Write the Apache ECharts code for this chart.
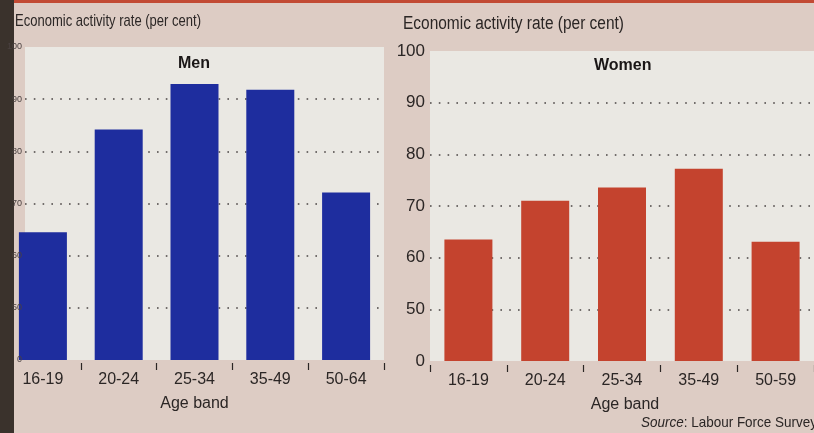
<!DOCTYPE html>
<html><head><meta charset="utf-8">
<script src="https://cdn.jsdelivr.net/npm/echarts@6/dist/echarts.min.js"></script>
<style>html,body{margin:0;padding:0;background:#ddccc4;}#c{width:814px;height:433px;}</style>
</head><body><div id="c"></div>
<script>
const menBands = ['16-19', '20-24', '25-34', '35-49', '50-64'];
const womenBands = ['16-19', '20-24', '25-34', '35-49', '50-59'];
const menRates = [64.5, 84.2, 92.9, 91.8, 72.1];
const womenRates = [63.5, 71, 73.6, 77.2, 63.1];
const yTicks = [40, 50, 60, 70, 80, 90, 100]; // 40 is drawn as the broken-axis "0"
const yTickLabels = ['0', '50', '60', '70', '80', '90', '100'];
const yAxisTitle = 'Economic activity rate (per cent)';
const xAxisTitle = 'Age band';
const sourceText = 'Labour Force Survey';

const FONT = '"Liberation Sans", Arial, sans-serif';
const TXT = '#2b2625';
const PAGE = '#ddccc4';
const PLOT = '#eae8e3';
const BLUE = '#1e2d9e';
const RED = '#c4432e';
const dotted = {show: true, showMinLine: false, showMaxLine: false,
  lineStyle: {color: '#4a4444', width: 1.6, type: [1.6, 7.2]}};
function tickLabel(v){ const i = yTicks.indexOf(v); return i >= 0 ? yTickLabels[i] : ''; }

// horizontal squeeze factor so that a text fits a target width (condensed look)
const mctx = document.createElement('canvas').getContext('2d');
function squeeze(text, font, target){ mctx.font = font; return target / mctx.measureText(text).width; }

const menTitleFont = '17px ' + FONT;
const womenTitleFont = '18px ' + FONT;
const srcFont = '15px ' + FONT;
const srcFull = 'Source: ' + sourceText;

const chart = echarts.init(document.getElementById('c'), null, {renderer: 'canvas'});
chart.setOption({
  backgroundColor: PAGE,
  animation: false,
  textStyle: {fontFamily: FONT},
  grid: [
    {left: 5, top: 47, width: 379, height: 313, show: false},
    {left: 25, top: 47, width: 359, height: 313, show: true, backgroundColor: PLOT, borderWidth: 0},
    {left: 430, top: 51, width: 386, height: 310, show: true, backgroundColor: PLOT, borderWidth: 0}
  ],
  xAxis: [
    {type: 'category', gridIndex: 0, data: menBands, offset: 3,
     axisLine: {show: false}, axisTick: {show: true, length: 7, lineStyle: {color: TXT, width: 1.2}},
     axisLabel: {color: TXT, fontSize: 16, margin: 9, fontFamily: FONT},
     name: xAxisTitle, nameLocation: 'middle', nameGap: 33,
     nameTextStyle: {color: TXT, fontSize: 16, fontFamily: FONT}},
    {type: 'category', gridIndex: 1, data: menBands, show: false},
    {type: 'category', gridIndex: 2, data: womenBands, offset: 4,
     axisLine: {show: false}, axisTick: {show: true, length: 7, lineStyle: {color: TXT, width: 1.2}},
     axisLabel: {color: TXT, fontSize: 16, margin: 8, fontFamily: FONT},
     name: xAxisTitle, nameLocation: 'middle', nameGap: 32,
     nameTextStyle: {color: TXT, fontSize: 16, fontFamily: FONT, padding: [0, 0, 0, 6]}}
  ],
  yAxis: [
    {type: 'value', gridIndex: 0, min: 40, max: 100, interval: 10, startValue: 40,
     axisLine: {show: false}, axisTick: {show: false}, splitLine: {show: false},
     axisLabel: {show: false}},
    {type: 'value', gridIndex: 1, min: 40, max: 100, interval: 10,
     axisLine: {show: false}, axisTick: {show: false}, splitLine: dotted,
     axisLabel: {show: false}},
    {type: 'value', gridIndex: 2, min: 40, max: 100, interval: 10, startValue: 40,
     axisLine: {show: false}, axisTick: {show: false}, splitLine: dotted,
     axisLabel: {color: TXT, fontSize: 17, margin: 5, formatter: tickLabel, fontFamily: FONT}},
    {type: 'value', gridIndex: 1, position: 'left', offset: 0, min: 40, max: 100, interval: 10,
     zlevel: 1, z: 6,
     axisLine: {show: false}, axisTick: {show: false}, splitLine: {show: false},
     axisLabel: {color: '#4a4140', fontSize: 9, margin: 3, formatter: tickLabel, fontFamily: FONT}}
  ],
  series: [
    {type: 'bar', xAxisIndex: 0, yAxisIndex: 0, data: menRates, barWidth: 48, clip: true,
     itemStyle: {color: BLUE}, z: 3},
    {type: 'bar', xAxisIndex: 2, yAxisIndex: 2, data: womenRates, barWidth: 48, clip: true,
     itemStyle: {color: RED}, z: 3}
  ],
  graphic: [
    {type: 'rect', left: 0, top: 0, shape: {width: 814, height: 3}, style: {fill: '#c24a34'}, z: 10},
    {type: 'rect', left: 0, top: 0, shape: {width: 14, height: 433}, style: {fill: '#3a322c'}, z: 10},
    {type: 'text', x: 15, y: 13, z: 10, scaleX: squeeze(yAxisTitle, menTitleFont, 186),
     style: {text: yAxisTitle, fill: TXT, font: menTitleFont}},
    {type: 'text', x: 403, y: 15, z: 10, scaleX: squeeze(yAxisTitle, womenTitleFont, 221),
     style: {text: yAxisTitle, fill: TXT, font: womenTitleFont}},
    {type: 'text', left: 178, top: 56, z: 10,
     style: {text: 'Men', fill: '#1a1616', font: 'bold 16px ' + FONT}},
    {type: 'text', left: 594, top: 58, z: 10,
     style: {text: 'Women', fill: '#1a1616', font: 'bold 16px ' + FONT}},
    {type: 'text', x: 641, y: 415, z: 10, scaleX: squeeze(srcFull, srcFont, 176),
     style: {text: '{i|Source}: ' + sourceText, fill: TXT, font: srcFont,
       rich: {i: {fontStyle: 'italic', fontSize: 15, fontFamily: FONT, fill: TXT}}}}
  ]
});
</script></body></html>
